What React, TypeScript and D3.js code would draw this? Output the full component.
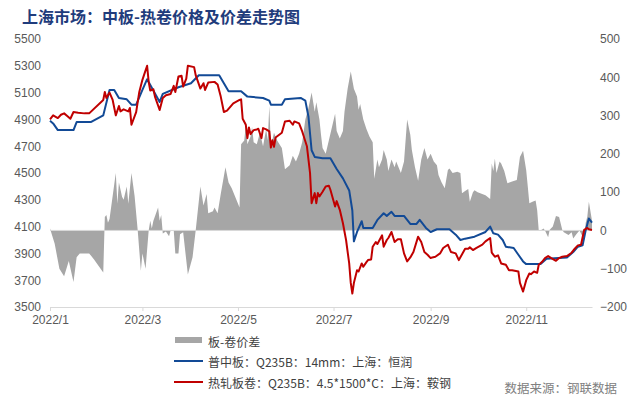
import React, { useEffect, useRef } from "react";
import * as d3 from "d3";

const TITLE = "上海市场：中板-热卷价格及价差走势图";
const SOURCE = "数据来源：钢联数据";
const leftTicks = [3500, 3700, 3900, 4100, 4300, 4500, 4700, 4900, 5100, 5300, 5500];
const rightTicks = [-200, -100, 0, 100, 200, 300, 400, 500];
const monthTicks = ["1/1", "3/1", "5/1", "7/1", "9/1", "11/1"];
const legendLabels = [
  "板-卷价差",
  "普中板：Q235B：14mm：上海：恒润",
  "热轧板卷：Q235B：4.5*1500*C：上海：鞍钢",
];

// 普中板 (left axis)
const plate: [string, number][] = [
  ["1/1", 4890], ["1/3", 4870], ["1/6", 4820], ["1/16", 4820], ["1/18", 4880], ["1/27", 4880],
  ["2/4", 4930], ["2/8", 5120], ["2/11", 5120], ["2/14", 5060], ["2/19", 5050], ["2/22", 5010],
  ["2/25", 5010], ["3/1", 5120], ["3/4", 5200], ["3/12", 5030], ["3/14", 5090], ["3/24", 5140],
  ["4/1", 5170], ["4/6", 5230], ["4/19", 5230], ["4/25", 5110], ["5/3", 5110], ["5/7", 5070],
  ["5/17", 5060], ["5/21", 5040], ["5/22", 5010], ["5/29", 5010], ["5/31", 5050], ["6/10", 5060],
  ["6/13", 5040], ["6/15", 4920], ["6/17", 4670], ["6/19", 4620], ["6/24", 4610], ["6/29", 4610],
  ["7/3", 4530], ["7/7", 4460], ["7/11", 4370], ["7/13", 4220], ["7/14", 3990], ["7/16", 4060],
  ["7/19", 4140], ["7/20", 4090], ["7/26", 4090], ["7/29", 4150], ["8/2", 4200], ["8/4", 4180],
  ["8/7", 4210], ["8/9", 4180], ["8/15", 4180], ["8/19", 4120], ["8/23", 4120], ["8/25", 4150],
  ["8/29", 4090], ["9/1", 4060], ["9/5", 4080], ["9/13", 4080], ["9/17", 4040], ["9/20", 4000],
  ["9/23", 4010], ["9/29", 4025], ["10/6", 4060], ["10/9", 4100], ["10/11", 4050], ["10/14", 4040],
  ["10/17", 4000], ["10/19", 3950], ["10/24", 3940], ["10/27", 3890], ["10/30", 3840], ["11/1", 3820],
  ["11/10", 3820], ["11/14", 3860], ["11/27", 3870], ["12/1", 3910], ["12/4", 3950], ["12/7", 3960],
  ["12/9", 4075], ["12/11", 4160], ["12/13", 4130],
];

// 热轧板卷 (left axis)
const coil: [string, number][] = [
  ["1/1", 4900], ["1/3", 4930], ["1/6", 4910], ["1/8", 4935], ["1/10", 4945], ["1/12", 4925],
  ["1/14", 4905], ["1/16", 4955], ["1/19", 4950], ["1/23", 4945], ["1/26", 4945], ["2/4", 5045],
  ["2/5", 5105], ["2/6", 5060], ["2/8", 5100], ["2/10", 5045], ["2/12", 4930], ["2/14", 5000],
  ["2/15", 4960], ["2/17", 4975], ["2/20", 4960], ["2/21", 4985], ["2/22", 4860], ["2/25", 4955],
  ["2/27", 5105], ["3/1", 5195], ["3/2", 5230], ["3/4", 5300], ["3/5", 5180], ["3/6", 5115],
  ["3/8", 5125], ["3/9", 5070], ["3/12", 4970], ["3/14", 5060], ["3/16", 5080], ["3/19", 5090],
  ["3/21", 5150], ["3/22", 5105], ["3/24", 5220], ["3/26", 5225], ["3/27", 5145], ["3/29", 5205],
  ["3/30", 5300], ["4/3", 5290], ["4/4", 5230], ["4/7", 5130], ["4/9", 5170], ["4/10", 5120],
  ["4/12", 5175], ["4/16", 5180], ["4/18", 5160], ["4/20", 5070], ["4/22", 4955], ["4/24", 4965],
  ["4/28", 5020], ["5/2", 5045], ["5/3", 5050], ["5/4", 4905], ["5/6", 4860], ["5/7", 4760],
  ["5/8", 4840], ["5/9", 4790], ["5/11", 4820], ["5/13", 4825], ["5/14", 4830], ["5/16", 4760],
  ["5/17", 4835], ["5/19", 4825], ["5/21", 4810], ["5/22", 4690], ["5/23", 4745], ["5/24", 4695],
  ["5/25", 4765], ["5/29", 4800], ["5/31", 4885], ["6/3", 4890], ["6/5", 4860], ["6/6", 4885],
  ["6/9", 4870], ["6/11", 4810], ["6/14", 4700], ["6/16", 4500], ["6/17", 4275], ["6/19", 4350],
  ["6/20", 4275], ["6/21", 4350], ["6/22", 4325], ["6/24", 4360], ["6/26", 4400], ["6/28", 4405],
  ["6/29", 4375], ["7/2", 4250], ["7/3", 4290], ["7/5", 4225], ["7/7", 4125], ["7/9", 4000],
  ["7/11", 3825], ["7/12", 3680], ["7/13", 3600], ["7/14", 3680], ["7/16", 3775], ["7/17", 3765],
  ["7/19", 3825], ["7/20", 3800], ["7/22", 3835], ["7/23", 3850], ["7/25", 3855], ["7/26", 3950],
  ["7/28", 3985], ["7/29", 3970], ["8/1", 4035], ["8/2", 3950], ["8/4", 4000], ["8/5", 4015],
  ["8/7", 4060], ["8/9", 3985], ["8/11", 4005], ["8/13", 4005], ["8/15", 3900], ["8/17", 3840],
  ["8/19", 3870], ["8/21", 3910], ["8/24", 4025], ["8/26", 3985], ["8/28", 3910], ["8/30", 3890],
  ["9/1", 3865], ["9/2", 3870], ["9/4", 3875], ["9/7", 3900], ["9/9", 3940], ["9/12", 3965],
  ["9/14", 3910], ["9/17", 3900], ["9/19", 3850], ["9/23", 3935], ["9/25", 3935], ["9/26", 3945],
  ["9/28", 3925], ["9/30", 3940], ["10/4", 3965], ["10/6", 3990], ["10/9", 4015], ["10/10", 3905],
  ["10/12", 3875], ["10/14", 3885], ["10/16", 3825], ["10/19", 3815], ["10/21", 3775], ["10/23", 3775],
  ["10/27", 3765], ["10/28", 3680], ["10/30", 3615], ["11/1", 3700], ["11/3", 3750], ["11/4", 3745],
  ["11/6", 3765], ["11/8", 3755], ["11/9", 3815], ["11/11", 3835], ["11/13", 3865], ["11/15", 3880],
  ["11/17", 3865], ["11/20", 3845], ["11/22", 3865], ["11/24", 3875], ["11/27", 3880], ["11/30", 3905],
  ["12/2", 3935], ["12/4", 3960], ["12/6", 3965], ["12/8", 4075], ["12/10", 4090], ["12/11", 4080],
  ["12/13", 4075],
];

// 板-卷价差 (right axis)
const spread: [string, number][] = [
  ["1/1", 5], ["1/4", -35], ["1/7", -100], ["1/10", -120], ["1/13", -80], ["1/16", -135],
  ["1/18", -70], ["1/20", -60], ["1/26", -60], ["1/29", -75], ["2/4", -110], ["2/5", 35],
  ["2/6", 40], ["2/7", 20], ["2/8", 30], ["2/12", 150], ["2/13", 70], ["2/14", 125],
  ["2/16", 88], ["2/17", 80], ["2/19", 115], ["2/20", 70], ["2/22", 150], ["2/24", 90],
  ["2/26", 0], ["2/28", -105], ["3/1", -60], ["3/3", -100], ["3/5", 0], ["3/6", 25],
  ["3/7", 5], ["3/8", 25], ["3/11", 60], ["3/12", 25], ["3/13", 40], ["3/14", -8],
  ["3/16", -3], ["3/18", -15], ["3/19", 0], ["3/21", 0], ["3/22", -60], ["3/24", -60],
  ["3/25", -10], ["3/27", -5], ["3/30", -115], ["4/2", -70], ["4/4", 0], ["4/7", 115],
  ["4/9", 65], ["4/11", 95], ["4/12", 45], ["4/15", 50], ["4/16", 60], ["4/18", 45],
  ["4/20", 95], ["4/23", 165], ["4/25", 125], ["4/27", 110], ["5/2", 60], ["5/3", 225],
  ["5/5", 235], ["5/6", 275], ["5/7", 225], ["5/9", 245], ["5/10", 270], ["5/11", 230],
  ["5/13", 225], ["5/15", 255], ["5/17", 220], ["5/19", 265], ["5/20", 235], ["5/21", 325],
  ["5/22", 220], ["5/24", 255], ["5/26", 235], ["5/29", 215], ["5/31", 160], ["6/3", 170],
  ["6/5", 195], ["6/7", 180], ["6/9", 200], ["6/11", 230], ["6/13", 290], ["6/15", 320],
  ["6/17", 360], ["6/19", 310], ["6/20", 335], ["6/22", 290], ["6/23", 250], ["6/24", 215],
  ["6/26", 200], ["6/28", 235], ["7/2", 305], ["7/3", 260], ["7/5", 240], ["7/7", 260],
  ["7/8", 310], ["7/10", 370], ["7/12", 415], ["7/14", 370], ["7/16", 350], ["7/17", 315],
  ["7/18", 330], ["7/20", 290], ["7/22", 265], ["7/24", 245], ["7/26", 230], ["7/27", 135],
  ["7/29", 185], ["7/30", 165], ["8/1", 185], ["8/2", 210], ["8/4", 185], ["8/5", 155],
  ["8/7", 185], ["8/9", 165], ["8/10", 180], ["8/13", 150], ["8/15", 180], ["8/17", 290],
  ["8/19", 250], ["8/20", 210], ["8/22", 165], ["8/24", 130], ["8/26", 185], ["8/28", 215],
  ["8/30", 185], ["9/1", 200], ["9/3", 180], ["9/5", 170], ["9/6", 145], ["9/8", 125],
  ["9/10", 110], ["9/12", 158], ["9/13", 162], ["9/15", 150], ["9/18", 153], ["9/20", 150],
  ["9/21", 97], ["9/23", 103], ["9/25", 108], ["9/26", 75], ["9/28", 100], ["9/29", 105],
  ["10/1", 100], ["10/6", 92], ["10/9", 82], ["10/10", 175], ["10/11", 155], ["10/12", 188],
  ["10/13", 150], ["10/15", 180], ["10/16", 175], ["10/18", 155], ["10/20", 123], ["10/23", 128],
  ["10/26", 132], ["10/28", 192], ["10/30", 208], ["11/1", 157], ["11/2", 115], ["11/3", 71],
  ["11/5", 75], ["11/7", 78], ["11/8", 53], ["11/9", 0], ["11/11", 2], ["11/12", 5],
  ["11/13", 0], ["11/15", -18], ["11/16", 2], ["11/18", 10], ["11/20", 38], ["11/22", 35],
  ["11/24", 2], ["11/25", -5], ["11/28", -12], ["11/30", -5], ["12/1", -21], ["12/3", -10],
  ["12/5", 0], ["12/8", -25], ["12/9", 20], ["12/10", 36], ["12/11", 75], ["12/13", 25],
];

const parseDay = (s: string) => d3.timeParse("%Y/%m/%d")("2022/" + s) as Date;

const App = () => {
  const svgRef = useRef<SVGSVGElement>(null);

  useEffect(() => {
    const svg = d3.select(svgRef.current);
    svg.selectAll("*").remove();

    const axisFont = "'Liberation Sans', Arial, sans-serif";
    const cjkFont = "'Noto Sans CJK SC', sans-serif";

    const x = d3.scaleTime().domain([parseDay("1/1"), parseDay("12/13")]).range([50, 592]);
    const yL = d3.scaleLinear().domain([3500, 5500]).range([307, 39]);
    const yR = d3.scaleLinear().domain([-200, 500]).range([307, 39]);

    svg.append("rect").attr("width", 637).attr("height", 395).attr("fill", "#fff");

    svg
      .append("text")
      .attr("x", 22)
      .attr("y", 16)
      .attr("dominant-baseline", "central")
      .style("font-family", cjkFont)
      .style("font-size", "16px")
      .style("font-weight", "bold")
      .attr("fill", "#1F3C7C")
      .text(TITLE);

    // spread area
    const area = d3
      .area<[string, number]>()
      .x((d) => x(parseDay(d[0])))
      .y0(yR(0))
      .y1((d) => yR(d[1]));
    svg.append("path").datum(spread).attr("fill", "#A6A6A6").attr("d", area);

    svg
      .append("line")
      .attr("x1", 50)
      .attr("x2", 592)
      .attr("y1", yR(0))
      .attr("y2", yR(0))
      .attr("stroke", "#d9d9d9")
      .attr("stroke-width", 1);

    const line = d3
      .line<[string, number]>()
      .x((d) => x(parseDay(d[0])))
      .y((d) => yL(d[1]));

    svg
      .append("path")
      .datum(plate)
      .attr("fill", "none")
      .attr("stroke", "#124A96")
      .attr("stroke-width", 2)
      .attr("stroke-linejoin", "round")
      .attr("d", line);
    svg
      .append("path")
      .datum(coil)
      .attr("fill", "none")
      .attr("stroke", "#C00000")
      .attr("stroke-width", 2)
      .attr("stroke-linejoin", "round")
      .attr("d", line);

    // axes
    const xAxis = svg
      .append("g")
      .attr("transform", "translate(0,307)")
      .call(
        d3
          .axisBottom(x)
          .tickValues(monthTicks.map(parseDay))
          .tickFormat((d) => d3.timeFormat("2022/%-m")(d as Date))
          .tickSize(4)
          .tickSizeOuter(0)
          .tickPadding(4)
      );
    xAxis.select(".domain").attr("stroke", "#d9d9d9");
    xAxis.selectAll(".tick line").attr("stroke", "#d9d9d9");
    xAxis.selectAll("text").style("font-family", axisFont).style("font-size", "12px").attr("fill", "#595959");

    const leftAxis = svg
      .append("g")
      .attr("transform", "translate(46,0)")
      .call(d3.axisLeft(yL).tickValues(leftTicks).tickFormat(d3.format("d")).tickSize(0).tickPadding(5));
    leftAxis.select(".domain").remove();
    leftAxis.selectAll("text").style("font-family", axisFont).style("font-size", "12px").attr("fill", "#595959");

    const rightAxis = svg
      .append("g")
      .attr("transform", "translate(596,0)")
      .call(d3.axisRight(yR).tickValues(rightTicks).tickFormat(d3.format("d")).tickSize(0).tickPadding(4));
    rightAxis.select(".domain").remove();
    rightAxis.selectAll("text").style("font-family", axisFont).style("font-size", "12px").attr("fill", "#595959");

    // legend
    const lg = svg.append("g");
    lg.append("rect").attr("x", 175).attr("y", 337).attr("width", 27).attr("height", 6).attr("fill", "#A6A6A6");
    lg.append("line").attr("x1", 174).attr("x2", 203).attr("y1", 361).attr("y2", 361).attr("stroke", "#124A96").attr("stroke-width", 2);
    lg.append("line").attr("x1", 174).attr("x2", 203).attr("y1", 382).attr("y2", 382).attr("stroke", "#C00000").attr("stroke-width", 2);
    lg.selectAll("text.lbl")
      .data(legendLabels)
      .enter()
      .append("text")
      .attr("class", "lbl")
      .attr("x", 208)
      .attr("y", (d, i) => 341 + i * 20.7)
      .attr("dominant-baseline", "central")
      .style("font-family", cjkFont)
      .style("font-size", "12px")
      .attr("fill", "#404040")
      .text((d) => d);

    svg
      .append("text")
      .attr("x", 617)
      .attr("y", 387)
      .attr("text-anchor", "end")
      .attr("dominant-baseline", "central")
      .style("font-family", cjkFont)
      .style("font-size", "12.5px")
      .attr("fill", "#808080")
      .text(SOURCE);
  }, []);

  return (
    <svg
      ref={svgRef}
      width={637}
      height={395}
      style={{ position: "absolute", left: 0, top: 0 }}
    ></svg>
  );
};

export default App;
